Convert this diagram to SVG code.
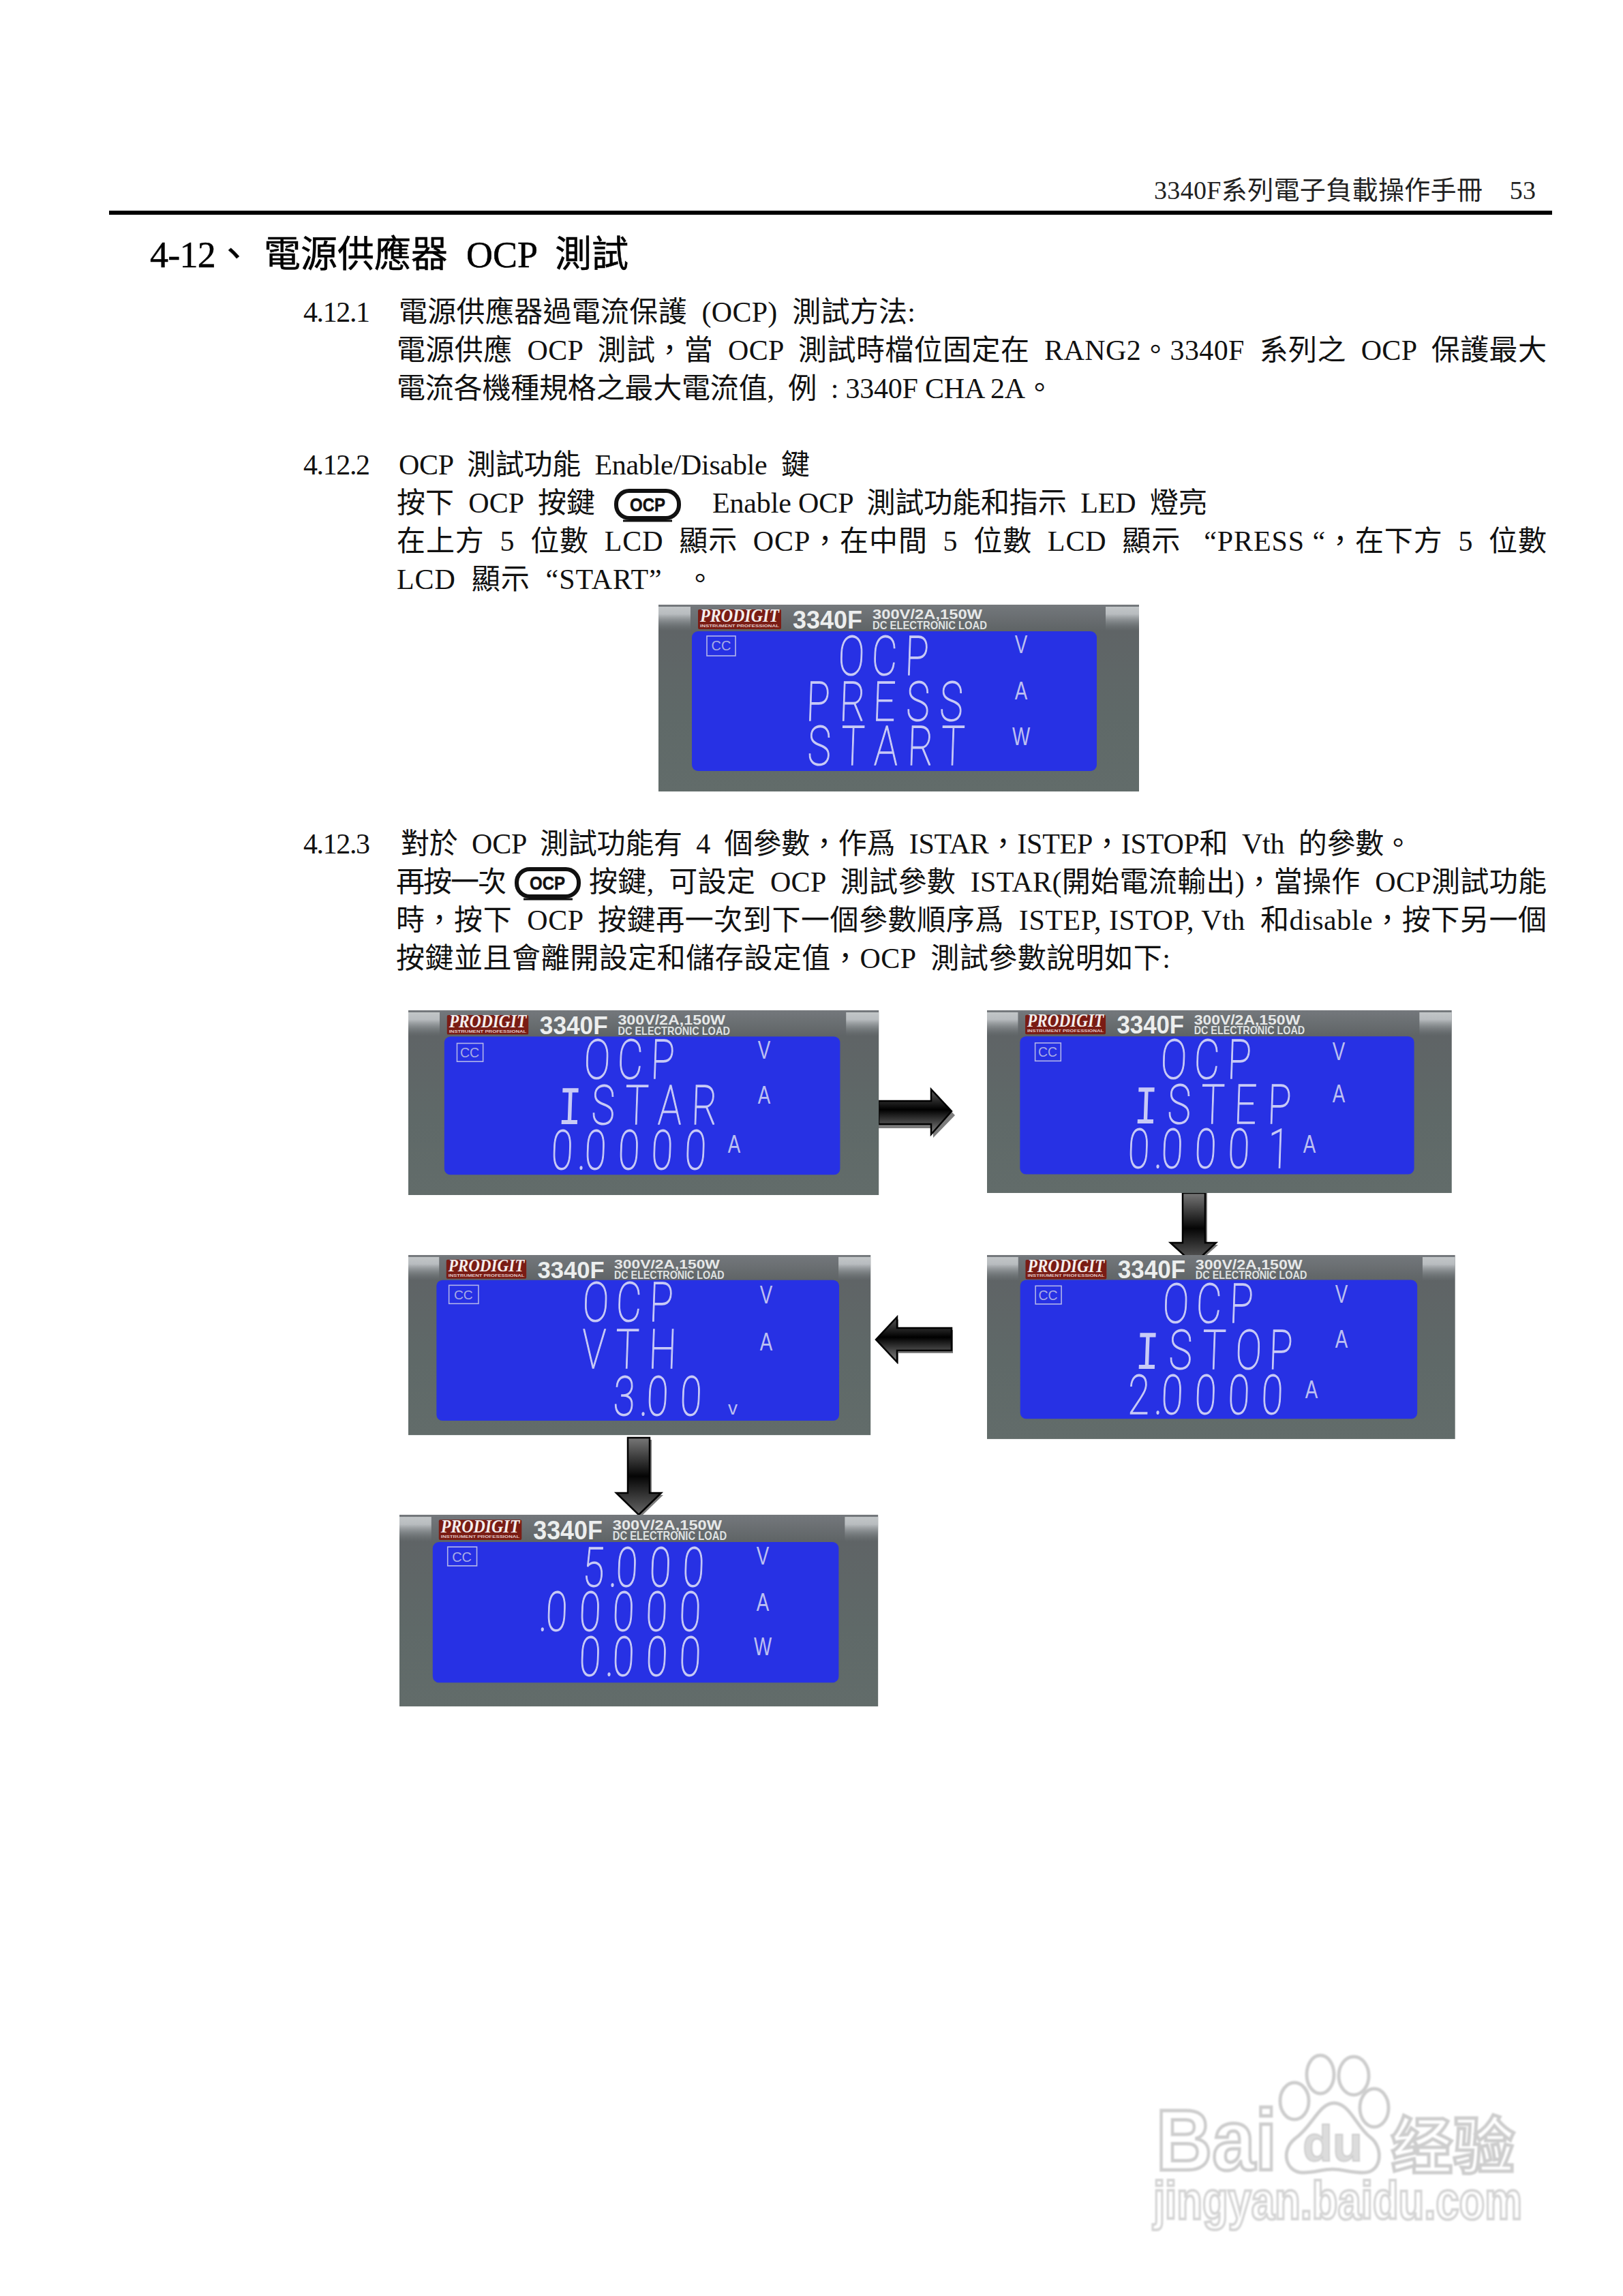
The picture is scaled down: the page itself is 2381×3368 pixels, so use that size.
<svg xmlns="http://www.w3.org/2000/svg" width="2381" height="3368" viewBox="0 0 2381 3368">
<style>
text{white-space:pre}
.b{font-family:"Liberation Serif","Noto Sans CJK TC",serif;font-size:42px;fill:#111}
.t{font-family:"Liberation Serif","Noto Sans CJK TC",serif;font-size:54px;fill:#000;stroke:#000;stroke-width:.5}
.h{font-family:"Liberation Serif","Noto Sans CJK TC",serif;font-size:38px;fill:#222}
.btn{font-family:"Liberation Sans",sans-serif;font-weight:700;font-size:27px;fill:#111;stroke:#111;stroke-width:.5;text-anchor:middle}
.logo{font-family:"Liberation Serif",serif;font-weight:700;font-style:italic;font-size:27px;fill:#f4eeee}
.sub{font-family:"Liberation Sans",sans-serif;font-weight:700;font-size:5px;fill:#e0c8c8}
.model{font-family:"Liberation Sans",sans-serif;font-weight:700;font-size:37px;fill:#eceeee}
.spec{font-family:"Liberation Sans",sans-serif;font-weight:700;font-size:20px;fill:#e6e8e8}
.load{font-family:"Liberation Sans",sans-serif;font-weight:700;font-size:17px;fill:#dfe2e2}
.cc{font-family:"Liberation Sans",sans-serif;font-size:20px;fill:#a9ade6;text-anchor:middle}
.seg{font-family:Roboto,"Liberation Sans",sans-serif;font-weight:100;font-size:80px;fill:#c8caf6;stroke:#c8caf6;stroke-width:1.5}
.i{font-family:"Liberation Mono",monospace;font-weight:400;stroke-width:0}
.unit{font-family:"Liberation Sans",sans-serif;font-size:37px;fill:#bcbff2;text-anchor:middle}
.wm{font-family:"Liberation Sans",sans-serif;font-weight:700;fill:#fff;stroke:#cdcdcd;stroke-width:5}
.paw{fill:#fff;stroke:#cdcdcd;stroke-width:5}
.shadow{fill:#7c7c7c}
.arrow{stroke:#000;stroke-width:2.5}
.box{fill:none;stroke:#b4b7ea;stroke-width:1.6}
.lcd{fill:#2731e4}
</style>
<defs>
<filter id="soft" x="-5%" y="-5%" width="110%" height="110%"><feGaussianBlur stdDeviation="1.2"/></filter>
<linearGradient id="plateG" x1="0" y1="0" x2="0" y2="1"><stop offset="0" stop-color="#74787c"/><stop offset=".14" stop-color="#5f6466"/><stop offset=".6" stop-color="#5f6968"/><stop offset="1" stop-color="#626c6a"/></linearGradient>
<linearGradient id="corner" x1="0" y1="0" x2="0" y2="1"><stop offset="0" stop-color="#c2c6c8"/><stop offset=".3" stop-color="#b8bcbf"/><stop offset="1" stop-color="#697072" stop-opacity="0"/></linearGradient>
<linearGradient id="arrV" x1="0" y1="0" x2="0" y2="1"><stop offset="0" stop-color="#5a5a5a"/><stop offset=".45" stop-color="#000"/><stop offset="1" stop-color="#8a8a8a"/></linearGradient>
<linearGradient id="arrD" x1="0" y1="0" x2="0" y2="1"><stop offset="0" stop-color="#777"/><stop offset=".5" stop-color="#050505"/><stop offset="1" stop-color="#666"/></linearGradient>
<g id="plate">
<rect width="705" height="274" fill="url(#plateG)"/>
<rect x="0" y="3" width="47" height="36" fill="url(#corner)"/>
<rect x="656" y="3" width="49" height="36" fill="url(#corner)"/>
<rect x="58" y="7" width="122" height="29" rx="2" fill="#7a1c14"/>
</g>
</defs>
<rect width="2381" height="3368" fill="#fff"/>

<g id="header">
<text class="h" x="1693" y="292" textLength="560">3340F系列電子負載操作手冊    53</text>
<rect x="160" y="309" width="2117" height="6" fill="#000"/>
</g>

<g id="body-text">
<text class="t" x="220" y="392" textLength="150">4-12、</text>
<text class="t" x="387" y="392" textLength="535">電源供應器  OCP  測試</text>
<text class="b" x="445" y="472" textLength="98">4.12.1</text>
<text class="b" x="585" y="472" textLength="758">電源供應器過電流保護  (OCP)  測試方法:</text>
<text class="b" x="582" y="528" textLength="1687">電源供應  OCP  測試，當  OCP  測試時檔位固定在  RANG2。3340F  系列之  OCP  保護最大</text>
<text class="b" x="582" y="584" textLength="964">電流各機種規格之最大電流值,  例  : 3340F CHA 2A。</text>
<text class="b" x="445" y="696" textLength="98">4.12.2</text>
<text class="b" x="585" y="696" textLength="603">OCP  測試功能  Enable/Disable  鍵</text>
<text class="b" x="582" y="752" textLength="291">按下  OCP  按鍵</text>
<text class="b" x="1045" y="752" textLength="726">Enable OCP  測試功能和指示  LED  燈亮</text>
<text class="b" x="582" y="808" textLength="1687">在上方  5  位數  LCD  顯示  OCP，在中間  5  位數  LCD  顯示   “PRESS “，在下方  5  位數</text>
<text class="b" x="582" y="864" textLength="466">LCD  顯示  “START”   。</text>
<text class="b" x="445" y="1252" textLength="98">4.12.3</text>
<text class="b" x="588" y="1252" textLength="1484">對於  OCP  測試功能有  4  個參數，作爲  ISTAR，ISTEP，ISTOP和  Vth  的參數。</text>
<text class="b" x="581" y="1308" textLength="162">再按一次</text>
<text class="b" x="864" y="1308" textLength="1405">按鍵,  可設定  OCP  測試參數  ISTAR(開始電流輸出)，當操作  OCP測試功能</text>
<text class="b" x="581" y="1364" textLength="1688">時，按下  OCP  按鍵再一次到下一個參數順序爲  ISTEP, ISTOP, Vth  和disable，按下另一個</text>
<text class="b" x="581" y="1420" textLength="1136">按鍵並且會離開設定和儲存設定值，OCP  測試參數說明如下:</text>
</g>

<g id="button-1">
<rect x="904" y="720" width="92" height="40" rx="19" fill="#fff" stroke="#111" stroke-width="6"/>
<path d="M914 764H986" stroke="#111" stroke-width="3" fill="none"/>
<text class="btn" x="950" y="750" textLength="52" lengthAdjust="spacingAndGlyphs">OCP</text>
</g>
<g id="button-2">
<rect x="758" y="1275" width="91" height="40" rx="19" fill="#fff" stroke="#111" stroke-width="6"/>
<path d="M768 1319H840" stroke="#111" stroke-width="3" fill="none"/>
<text class="btn" x="803" y="1305" textLength="52" lengthAdjust="spacingAndGlyphs">OCP</text>
</g>

<g id="connectors">
<polygon class="shadow" points="1289,1621 1369,1621 1369,1603 1401,1636 1369,1669 1369,1655 1289,1655"/>
<polygon class="arrow" fill="url(#arrV)" points="1289,1615 1366,1615 1366,1598 1396,1630 1366,1664 1366,1649 1289,1649"/>
<polygon class="shadow" points="1738,1750 1771,1750 1771,1826 1787,1826 1754,1856 1720,1826 1738,1826"/>
<polygon class="arrow" fill="url(#arrD)" points="1735,1750 1768,1750 1768,1823 1784,1823 1751,1854 1717,1823 1735,1823"/>
<polygon class="shadow" points="1288,1968 1318,1935 1318,1951 1398,1951 1398,1985 1318,1985 1318,2001"/>
<polygon class="arrow" fill="url(#arrV)" points="1285,1965 1316,1932 1316,1948 1396,1948 1396,1981 1316,1981 1316,1998"/>
<polygon class="shadow" points="924,2112 956,2112 956,2193 973,2193 940,2225 907,2193 924,2193"/>
<polygon class="arrow" fill="url(#arrD)" points="921,2109 953,2109 953,2190 970,2190 937,2222 904,2190 921,2190"/>
</g>

<g id="panel-press">
<g transform="translate(966 887)">
<use href="#plate"/>
<rect class="lcd" x="49" y="39" width="594" height="205" rx="9"/>
<rect class="box" x="71" y="46" width="42" height="29"/>
<text class="logo" x="61" y="25" textLength="116" lengthAdjust="spacingAndGlyphs">PRODIGIT</text>
<text class="sub" x="61" y="33" textLength="116" lengthAdjust="spacingAndGlyphs">INSTRUMENT PROFESSIONAL</text>
<text class="model" x="197" y="35" textLength="102" lengthAdjust="spacingAndGlyphs">3340F</text>
<text class="spec" x="314" y="21" textLength="161" lengthAdjust="spacingAndGlyphs">300V/2A,150W</text>
<text class="load" x="314" y="36" textLength="168" lengthAdjust="spacingAndGlyphs">DC ELECTRONIC LOAD</text>
<text class="cc" x="92" y="67">CC</text>
</g>
<text class="seg" transform="translate(1229 990) skewX(-2) scale(.72 1)" x="0 68 136">OCP</text>
<text class="seg" transform="translate(1182 1057) skewX(-2) scale(.72 1)" x="0 68 136 204 272">PRESS</text>
<text class="seg" transform="translate(1184 1122) skewX(-2) scale(.72 1)" x="0 68 136 204 272">START</text>
<text class="unit" transform="translate(1498 958) scale(.75 1)">V</text>
<text class="unit" transform="translate(1498 1026) scale(.75 1)">A</text>
<text class="unit" transform="translate(1498 1093) scale(.75 1)">W</text>
</g>

<g id="panel-istar">
<g transform="translate(599 1482) scale(.979 .989)">
<use href="#plate"/>
<rect class="lcd" x="54" y="39" width="593" height="205" rx="9"/>
<rect class="box" x="73" y="49" width="39" height="27"/>
<text class="logo" x="61" y="25" textLength="116" lengthAdjust="spacingAndGlyphs">PRODIGIT</text>
<text class="sub" x="61" y="33" textLength="116" lengthAdjust="spacingAndGlyphs">INSTRUMENT PROFESSIONAL</text>
<text class="model" x="197" y="35" textLength="102" lengthAdjust="spacingAndGlyphs">3340F</text>
<text class="spec" x="314" y="21" textLength="161" lengthAdjust="spacingAndGlyphs">300V/2A,150W</text>
<text class="load" x="314" y="36" textLength="168" lengthAdjust="spacingAndGlyphs">DC ELECTRONIC LOAD</text>
<text class="cc" x="92" y="70">CC</text>
</g>
<text class="seg" transform="translate(856 1582) skewX(-2) scale(.72 1)" x="0 68 136">OCP</text>
<text class="seg" transform="translate(818 1649) skewX(-2) scale(.72 1)" x="0 68 136 204 272"><tspan class="i">I</tspan>STAR</text>
<text class="seg" transform="translate(808 1715) skewX(-2) scale(.72 1)" x="0 54 68 136 204 272">0.0000</text>
<text class="unit" transform="translate(1121 1553) scale(.75 1)">V</text>
<text class="unit" transform="translate(1121 1619) scale(.75 1)">A</text>
<text class="unit" transform="translate(1077 1691) scale(.75 1)">A</text>
</g>

<g id="panel-istep">
<g transform="translate(1448 1482) scale(.967 .978)">
<use href="#plate"/>
<rect class="lcd" x="50" y="39" width="598" height="207" rx="9"/>
<rect class="box" x="73" y="49" width="39" height="27"/>
<text class="logo" x="61" y="25" textLength="116" lengthAdjust="spacingAndGlyphs">PRODIGIT</text>
<text class="sub" x="61" y="33" textLength="116" lengthAdjust="spacingAndGlyphs">INSTRUMENT PROFESSIONAL</text>
<text class="model" x="197" y="35" textLength="102" lengthAdjust="spacingAndGlyphs">3340F</text>
<text class="spec" x="314" y="21" textLength="161" lengthAdjust="spacingAndGlyphs">300V/2A,150W</text>
<text class="load" x="314" y="36" textLength="168" lengthAdjust="spacingAndGlyphs">DC ELECTRONIC LOAD</text>
<text class="cc" x="92" y="70">CC</text>
</g>
<text class="seg" transform="translate(1702 1582) skewX(-2) scale(.72 1)" x="0 68 136">OCP</text>
<text class="seg" transform="translate(1663 1648) skewX(-2) scale(.72 1)" x="0 68 136 204 272"><tspan class="i">I</tspan>STEP</text>
<text class="seg" transform="translate(1654 1713) skewX(-2) scale(.72 1)" x="0 54 68 136 204 285">0.0001</text>
<text class="unit" transform="translate(1964 1555) scale(.75 1)">V</text>
<text class="unit" transform="translate(1964 1617) scale(.75 1)">A</text>
<text class="unit" transform="translate(1921 1691) scale(.75 1)">A</text>
</g>

<g id="panel-istop">
<g transform="translate(1448 1841) scale(.974 .985)">
<use href="#plate"/>
<rect class="lcd" x="50" y="37" width="598" height="207" rx="9"/>
<rect class="box" x="73" y="46" width="39" height="27"/>
<text class="logo" x="61" y="25" textLength="116" lengthAdjust="spacingAndGlyphs">PRODIGIT</text>
<text class="sub" x="61" y="33" textLength="116" lengthAdjust="spacingAndGlyphs">INSTRUMENT PROFESSIONAL</text>
<text class="model" x="197" y="35" textLength="102" lengthAdjust="spacingAndGlyphs">3340F</text>
<text class="spec" x="314" y="21" textLength="161" lengthAdjust="spacingAndGlyphs">300V/2A,150W</text>
<text class="load" x="314" y="36" textLength="168" lengthAdjust="spacingAndGlyphs">DC ELECTRONIC LOAD</text>
<text class="cc" x="92" y="67">CC</text>
</g>
<text class="seg" transform="translate(1705 1940) skewX(-2) scale(.72 1)" x="0 68 136">OCP</text>
<text class="seg" transform="translate(1665 2008) skewX(-2) scale(.72 1)" x="0 68 136 204 272"><tspan class="i">I</tspan>STOP</text>
<text class="seg" transform="translate(1654 2074) skewX(-2) scale(.72 1)" x="0 54 68 136 204 272">2.0000</text>
<text class="unit" transform="translate(1968 1911) scale(.75 1)">V</text>
<text class="unit" transform="translate(1968 1977) scale(.75 1)">A</text>
<text class="unit" transform="translate(1924 2051) scale(.75 1)">A</text>
</g>

<g id="panel-vth">
<g transform="translate(599 1841) scale(.962 .964)">
<use href="#plate"/>
<rect class="lcd" x="43" y="38" width="614" height="214" rx="9"/>
<rect class="box" x="62" y="46" width="45" height="28"/>
<text class="logo" x="61" y="25" textLength="116" lengthAdjust="spacingAndGlyphs">PRODIGIT</text>
<text class="sub" x="61" y="33" textLength="116" lengthAdjust="spacingAndGlyphs">INSTRUMENT PROFESSIONAL</text>
<text class="model" x="197" y="35" textLength="102" lengthAdjust="spacingAndGlyphs">3340F</text>
<text class="spec" x="314" y="21" textLength="161" lengthAdjust="spacingAndGlyphs">300V/2A,150W</text>
<text class="load" x="314" y="36" textLength="168" lengthAdjust="spacingAndGlyphs">DC ELECTRONIC LOAD</text>
<text class="cc" x="84" y="67">CC</text>
</g>
<text class="seg" transform="translate(854 1938) skewX(-2) scale(.72 1)" x="0 68 136">OCP</text>
<text class="seg" transform="translate(853 2007) skewX(-2) scale(.72 1)" x="0 68 136">VTH</text>
<text class="seg" transform="translate(899 2076) skewX(-2) scale(.72 1)" x="0 54 68 136">3.00</text>
<text class="unit" style="font-size:28px" transform="translate(1075 2075)">v</text>
<text class="unit" transform="translate(1124 1912) scale(.75 1)">V</text>
<text class="unit" transform="translate(1124 1981) scale(.75 1)">A</text>
</g>

<g id="panel-final">
<g transform="translate(586 2222) scale(.996 1.026)">
<use href="#plate"/>
<rect class="lcd" x="49" y="39" width="598" height="201" rx="9"/>
<rect class="box" x="71" y="46" width="43" height="27"/>
<text class="logo" x="61" y="25" textLength="116" lengthAdjust="spacingAndGlyphs">PRODIGIT</text>
<text class="sub" x="61" y="33" textLength="116" lengthAdjust="spacingAndGlyphs">INSTRUMENT PROFESSIONAL</text>
<text class="model" x="197" y="35" textLength="102" lengthAdjust="spacingAndGlyphs">3340F</text>
<text class="spec" x="314" y="21" textLength="161" lengthAdjust="spacingAndGlyphs">300V/2A,150W</text>
<text class="load" x="314" y="36" textLength="168" lengthAdjust="spacingAndGlyphs">DC ELECTRONIC LOAD</text>
<text class="cc" x="92" y="67">CC</text>
</g>
<text class="seg" transform="translate(854 2327) skewX(-2) scale(.72 1)" x="0 54 68 136 204">5.000</text>
<text class="seg" transform="translate(800 2392) skewX(-2) scale(.72 1)" x="-14 0 68 136 204 272">.00000</text>
<text class="seg" transform="translate(849 2458) skewX(-2) scale(.72 1)" x="0 54 68 136 204">0.000</text>
<text class="unit" transform="translate(1119 2295) scale(.75 1)">V</text>
<text class="unit" transform="translate(1119 2363) scale(.75 1)">A</text>
<text class="unit" transform="translate(1119 2428) scale(.75 1)">W</text>
</g>

<g id="watermark" filter="url(#soft)">
<ellipse class="paw" cx="1937" cy="3043" rx="20" ry="28"/>
<ellipse class="paw" cx="1986" cy="3045" rx="22" ry="28"/>
<ellipse class="paw" cx="1899" cy="3082" rx="21" ry="27"/>
<ellipse class="paw" cx="2016" cy="3092" rx="21" ry="28"/>
<path class="paw" d="M1957 3085C1980 3085 1990 3120 2010 3135C2030 3150 2028 3187 2000 3187C1980 3187 1970 3182 1955 3182C1940 3182 1930 3187 1912 3187C1886 3187 1878 3155 1900 3137C1925 3120 1935 3085 1957 3085Z"/>
<text class="wm" x="1696" y="3183" font-size="127" textLength="177" lengthAdjust="spacingAndGlyphs">Bai</text>
<text class="wm" x="1911" y="3170" font-size="75" textLength="88" lengthAdjust="spacingAndGlyphs" style="fill:#dcdcdc;stroke-width:2">du</text>
<text class="wm" x="2041" y="3180" font-size="90" textLength="181" style='font-family:"Noto Sans CJK SC",sans-serif'>经验</text>
<text class="wm" x="1692" y="3255" font-size="77" textLength="541" lengthAdjust="spacingAndGlyphs" style="stroke:#d4d4d4;stroke-width:4">jingyan.baidu.com</text>
</g>
</svg>
